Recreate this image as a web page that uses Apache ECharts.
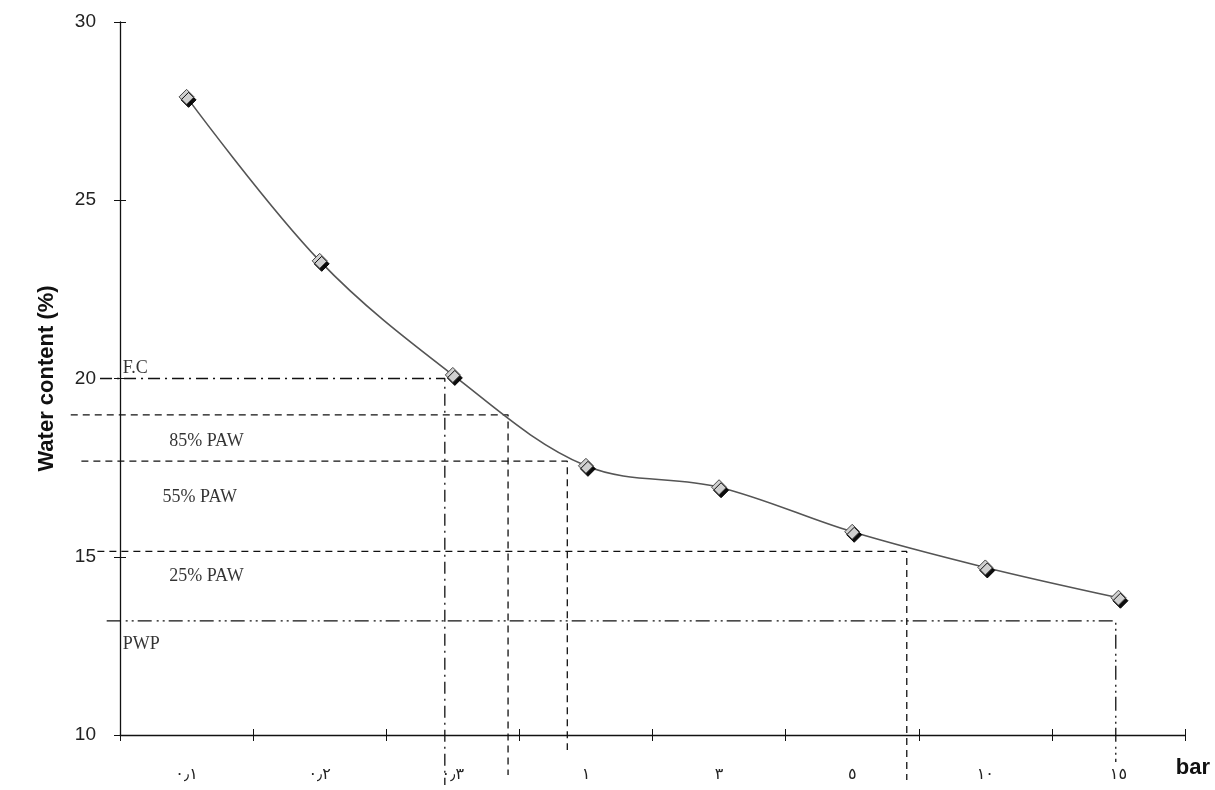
<!DOCTYPE html>
<html>
<head>
<meta charset="utf-8">
<script src="https://cdn.jsdelivr.net/npm/echarts@6/dist/echarts.min.js"></script>
<style>html,body{margin:0;padding:0;background:#fff}#c{width:1215px;height:790px}</style>
</head>
<body>
<div id="c"></div>
<script>
// categories (pressure, bar) in Arabic-Indic digits
var categories = ['٠٫١', '٠٫٢', '٠٫٣', '١', '٣', '٥', '١٠', '١٥'];
// water content (%)
var waterContent = [27.9, 23.3, 20.1, 17.55, 16.95, 15.7, 14.7, 13.85];
var yTicks = [10, 15, 20, 25, 30];

// reference levels: [level %, start (category units), corner (category units), bottom end %]
var refLevels = [20.0, 18.98, 17.68, 15.15, 13.2];
var refStart = [-0.15, -0.37, -0.29, -0.17, -0.1];
var refCorner = [2.44, 2.915, 3.36, 5.91, 7.48];
var refBottom = [8.6, 8.88, 9.58, 8.74, 9.24];
var refDash = [[12, 5, 2, 5], [7, 5], [7, 5], [7, 5], [14, 5, 2, 4, 2, 4]];

// annotation texts with anchor positions (category units, %)
var noteText = ['F.C', '85% PAW', '55% PAW', '25% PAW', 'PWP'];
var noteX = [0.02, 0.37, 0.32, 0.37, 0.02];
var noteY = [20.3, 18.25, 16.68, 14.46, 12.55];

var W = 1215, GL = 120, GR = 30, GT = 22, GB = 55;
var unit = (W - GL - GR) / categories.length;

var chart = echarts.init(document.getElementById('c'));
var series = [];
series.push({
  type: 'line',
  xAxisIndex: 0, yAxisIndex: 0,
  data: waterContent,
  smooth: 0.35,
  symbol: 'diamond',
  symbolSize: 15,
  lineStyle: { color: '#555', width: 1.6 },
  itemStyle: { color: '#d0d0d0', borderColor: '#444', borderWidth: 1,
    shadowColor: 'rgba(0,0,0,0.95)', shadowOffsetX: 2, shadowOffsetY: 3, shadowBlur: 0 },
  z: 5
});
for (var i = 0; i < refLevels.length; i++) {
  series.push({
    type: 'line',
    xAxisIndex: 2, yAxisIndex: 2,
    data: [[refStart[i], refLevels[i]], [refCorner[i], refLevels[i]], [refCorner[i], refBottom[i]]],
    symbol: 'none',
    clip: false,
    lineStyle: { color: '#111', width: 1.3, type: refDash[i] },
    silent: true,
    z: 3
  });
}
series.push({
  type: 'scatter',
  xAxisIndex: 2, yAxisIndex: 2,
  data: noteText.map(function (t, k) { return { value: [noteX[k], noteY[k]], name: t }; }),
  symbolSize: 0,
  label: { show: true, position: 'right', distance: 0, formatter: '{b}',
    fontFamily: 'Liberation Serif', fontSize: 18, color: '#000' },
  silent: true
});

chart.setOption({
  animation: false,
  backgroundColor: '#fff',
  grid: [
    { left: GL, right: GR, top: GT, bottom: GB },
    { left: 0, right: GR, top: GT, bottom: GB }
  ],
  xAxis: [
    { type: 'category', gridIndex: 0, data: categories, boundaryGap: true,
      axisLine: { lineStyle: { color: '#111', width: 1.3 } },
      axisTick: { show: true, length: 6, lineStyle: { color: '#111' } },
      axisLabel: { margin: 32, fontFamily: 'DejaVu Sans', fontSize: 16, color: '#222' },
      splitLine: { show: false } },
    { type: 'category', gridIndex: 0, data: categories, boundaryGap: true, position: 'bottom',
      axisLine: { show: false },
      axisTick: { show: true, inside: true, length: 6, lineStyle: { color: '#111' } },
      axisLabel: { show: false }, splitLine: { show: false } },
    { type: 'value', gridIndex: 1, min: -GL / unit, max: categories.length, show: false }
  ],
  yAxis: [
    { type: 'value', gridIndex: 0, min: 10, max: 30, interval: 5,
      axisLine: { show: true, lineStyle: { color: '#111', width: 1.3 } },
      axisTick: { show: true, length: 6, lineStyle: { color: '#111' } },
      axisLabel: { margin: 24, fontFamily: 'Liberation Sans', fontSize: 19, color: '#222',
        formatter: function (v) { return yTicks.indexOf(v) >= 0 ? String(v) : ''; } },
      splitLine: { show: false },
      name: 'Water content (%)', nameLocation: 'middle', nameGap: 62,
      nameTextStyle: { fontFamily: 'Liberation Sans', fontSize: 22, fontWeight: 'bold', color: '#111' } },
    { type: 'value', gridIndex: 0, min: 10, max: 30, interval: 5, position: 'left',
      axisLine: { show: false },
      axisTick: { show: true, inside: true, length: 6, lineStyle: { color: '#111' } },
      axisLabel: { show: false }, splitLine: { show: false } },
    { type: 'value', gridIndex: 1, min: 10, max: 30, show: false }
  ],
  graphic: [
    { type: 'text', right: 5, top: 757,
      style: { text: 'bar', fontFamily: 'Liberation Sans', fontSize: 22, fontWeight: 'bold', fill: '#111' } }
  ],
  series: series
});
</script>
</body>
</html>
